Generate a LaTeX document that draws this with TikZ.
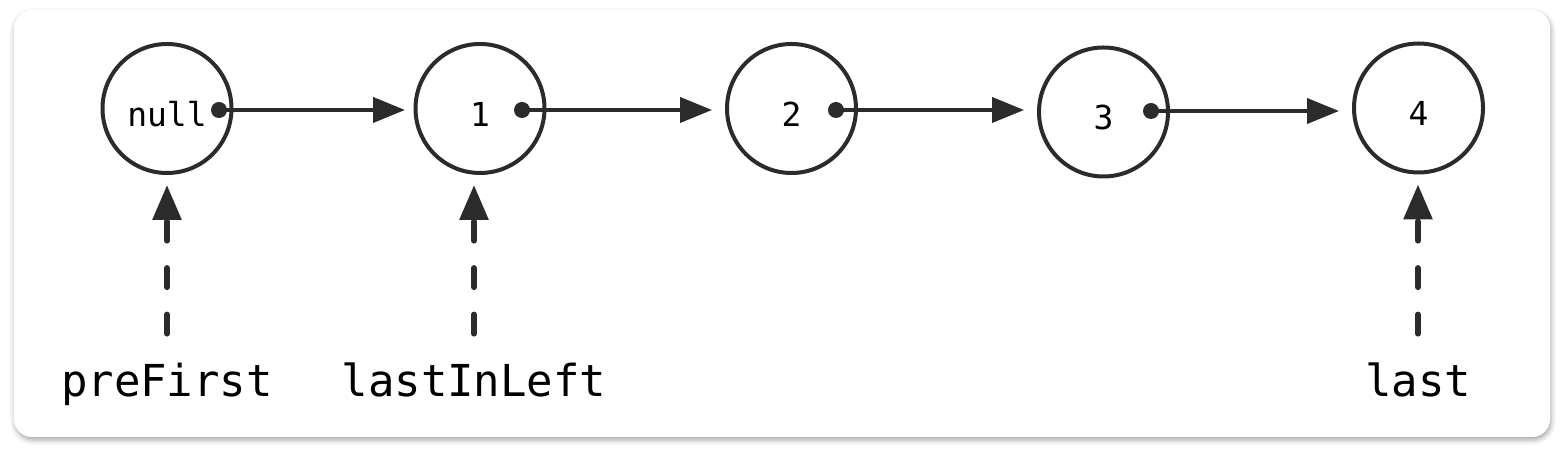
\documentclass[tikz,border=0pt]{standalone}
\usepackage{fontspec}
\setmonofont{DejaVu Sans Mono}
\usetikzlibrary{arrows.meta,shadows.blur}
\definecolor{ink}{HTML}{2B2B2B}
\tikzset{
  elem/.style={circle, draw=ink, line width=2pt, minimum size=64.5pt, inner sep=0pt, text height=18pt, text depth=0pt, font=\fontsize{16.5}{19}\ttfamily},
  link/.style={draw=ink, line width=2pt, -{Triangle[length=16pt,width=12.5pt]}, shorten >=6.5pt},
  ptr/.style={draw=ink, line width=3pt, line cap=round, dash pattern=on 9.5pt off 13.75pt, -{Triangle[length=17.5pt,width=14pt]}, shorten <=15.5pt, shorten >=5pt},
  tag/.style={inner sep=0pt, anchor=base, text height=16pt, text depth=4pt, font=\fontsize{22}{26}\ttfamily},
}
\begin{document}
\begin{tikzpicture}[x=0.5pt, y=-0.5pt, line join=round]
  \useasboundingbox (0,0) rectangle (1563,458);
  % card
  \fill[white, rounded corners=9pt, blur shadow={shadow xshift=0.5pt, shadow yshift=-1.5pt, shadow blur radius=2.5pt, shadow opacity=35}] (14,10) rectangle (1550,437);
  % list elements
  \node[elem] (n0) at (167,108.5) {null};
  \node[elem] (n1) at (480,108.5) {1};
  \node[elem] (n2) at (791.5,108.5) {2};
  \node[elem] (n3) at (1103.5,112) {3};
  \node[elem] (n4) at (1418.5,108) {4};
  \coordinate (d0) at (219,110); \coordinate (d1) at (522,110); % next pointers
  \coordinate (d2) at (836,110); \coordinate (d3) at (1151,111);
  \draw[link, shorten >=4.25pt] (d0) -- (d0 -| n1.west);
  \draw[link] (d1) -- (d1 -| n2.west);
  \draw[link] (d2) -- (d2 -| n3.west);
  \draw[link] (d3) -- (d3 -| n4.west);
  \fill[ink] (d0) circle (4pt) (d1) circle (4pt) (d2) circle (4pt) (d3) circle (4pt);
  % pointer names
  \node[tag] (pf) at (167,397) {preFirst};
  \node[tag] (li) at (474,397) {lastInLeft};
  \node[tag] (la) at (1418,397) {last};
  \draw[ptr] (pf.north) -- (pf.north |- n0.south);
  \draw[ptr] (li.north) -- (li.north |- n1.south);
  \draw[ptr] (la.north) -- (la.north |- n4.south);
\end{tikzpicture}
\end{document}
